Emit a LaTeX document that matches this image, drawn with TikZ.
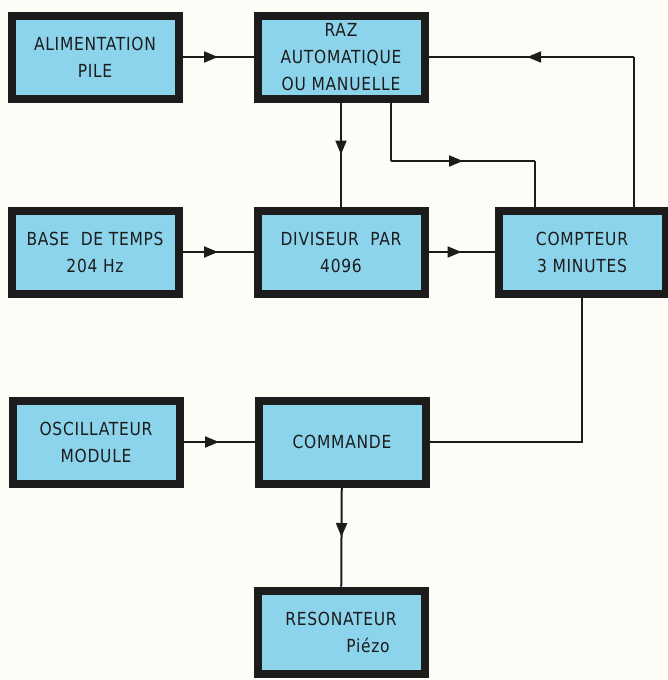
\documentclass[tikz,border=0pt]{standalone}
\usepackage{fontspec}
\setmainfont{DejaVu Sans}[FakeStretch=0.86,LetterSpace=4]
\usepackage{xcolor}
\usetikzlibrary{arrows.meta,decorations.markings}

\definecolor{boxblue}{RGB}{140,212,236}
\definecolor{inkblack}{RGB}{28,28,28}
\definecolor{papercream}{RGB}{253,252,246}

\begin{document}
\begin{tikzpicture}[
  x=1pt, y=-1pt,
  font=\fontsize{18}{27}\selectfont,
  blk/.style={draw=inkblack, line width=8pt, fill=boxblue, text=inkblack,
              minimum width=167pt, minimum height=83pt, align=center,
              inner sep=0pt},
  wire/.style={draw=inkblack, line width=2pt},
  midarr/.style={postaction={decorate},
    decoration={markings, mark=at position #1 with
      {\arrow[inkblack]{Triangle[length=14pt,width=11pt]}}}},
  midarr/.default=0.5,
]
% ---- paper ----
\fill[papercream] (0,0) rectangle (667,680);
\useasboundingbox (0,0) rectangle (667,680);

% ---- Row 1 ----
\node[blk] (alim) at (95, 57) {ALIMENTATION\\PILE};
\node[blk] (raz)  at (341,57) {\fontsize{18}{24}\selectfont RAZ\\AUTOMATIQUE\\OU MANUELLE};

% ---- Row 2 ----
\node[blk] (base)  at (95, 252) {BASE~~DE TEMPS\\204 Hz};
\node[blk] (div)   at (341,252) {DIVISEUR~~PAR\\4096};
\node[blk] (compt) at (582,252) {COMPTEUR\\3 MINUTES};

% ---- Row 3 ----
\node[blk] (osc) at (96, 442) {OSCILLATEUR\\MODULE};
\node[blk] (cmd) at (342,442) {COMMANDE};

% ---- Row 4 ----
\node[blk] (res) at (341,632) {RESONATEUR\\\hspace*{3em}Piézo};

% Horizontal links
\foreach \a/\b in {alim/raz, base/div, div/compt, osc/cmd}
  \draw[wire, midarr] (\a) -- (\b);

% Vertical links
\draw[wire, midarr] (raz) -- (div);
\draw[wire, midarr] (cmd) -- (res);

% RAZ towards compteur
\coordinate (kneeL) at (391,161);
\coordinate (kneeR) at (535,161);
\draw[wire] ([xshift=50pt]raz.south) -- (kneeL);
\draw[wire, midarr] (kneeL) -- (kneeR);
\draw[wire] (kneeR) -- (kneeR |- compt.north);

% Feedback compteur -> RAZ
\coordinate (fbTop) at (634,57);
\draw[wire] ([xshift=52pt]compt.north) -- (fbTop);
\draw[wire, midarr=0.52] (fbTop) -- (raz);

% Compteur -> commande
\draw[wire] (compt.south) |- (cmd.east);
\end{tikzpicture}
\end{document}
